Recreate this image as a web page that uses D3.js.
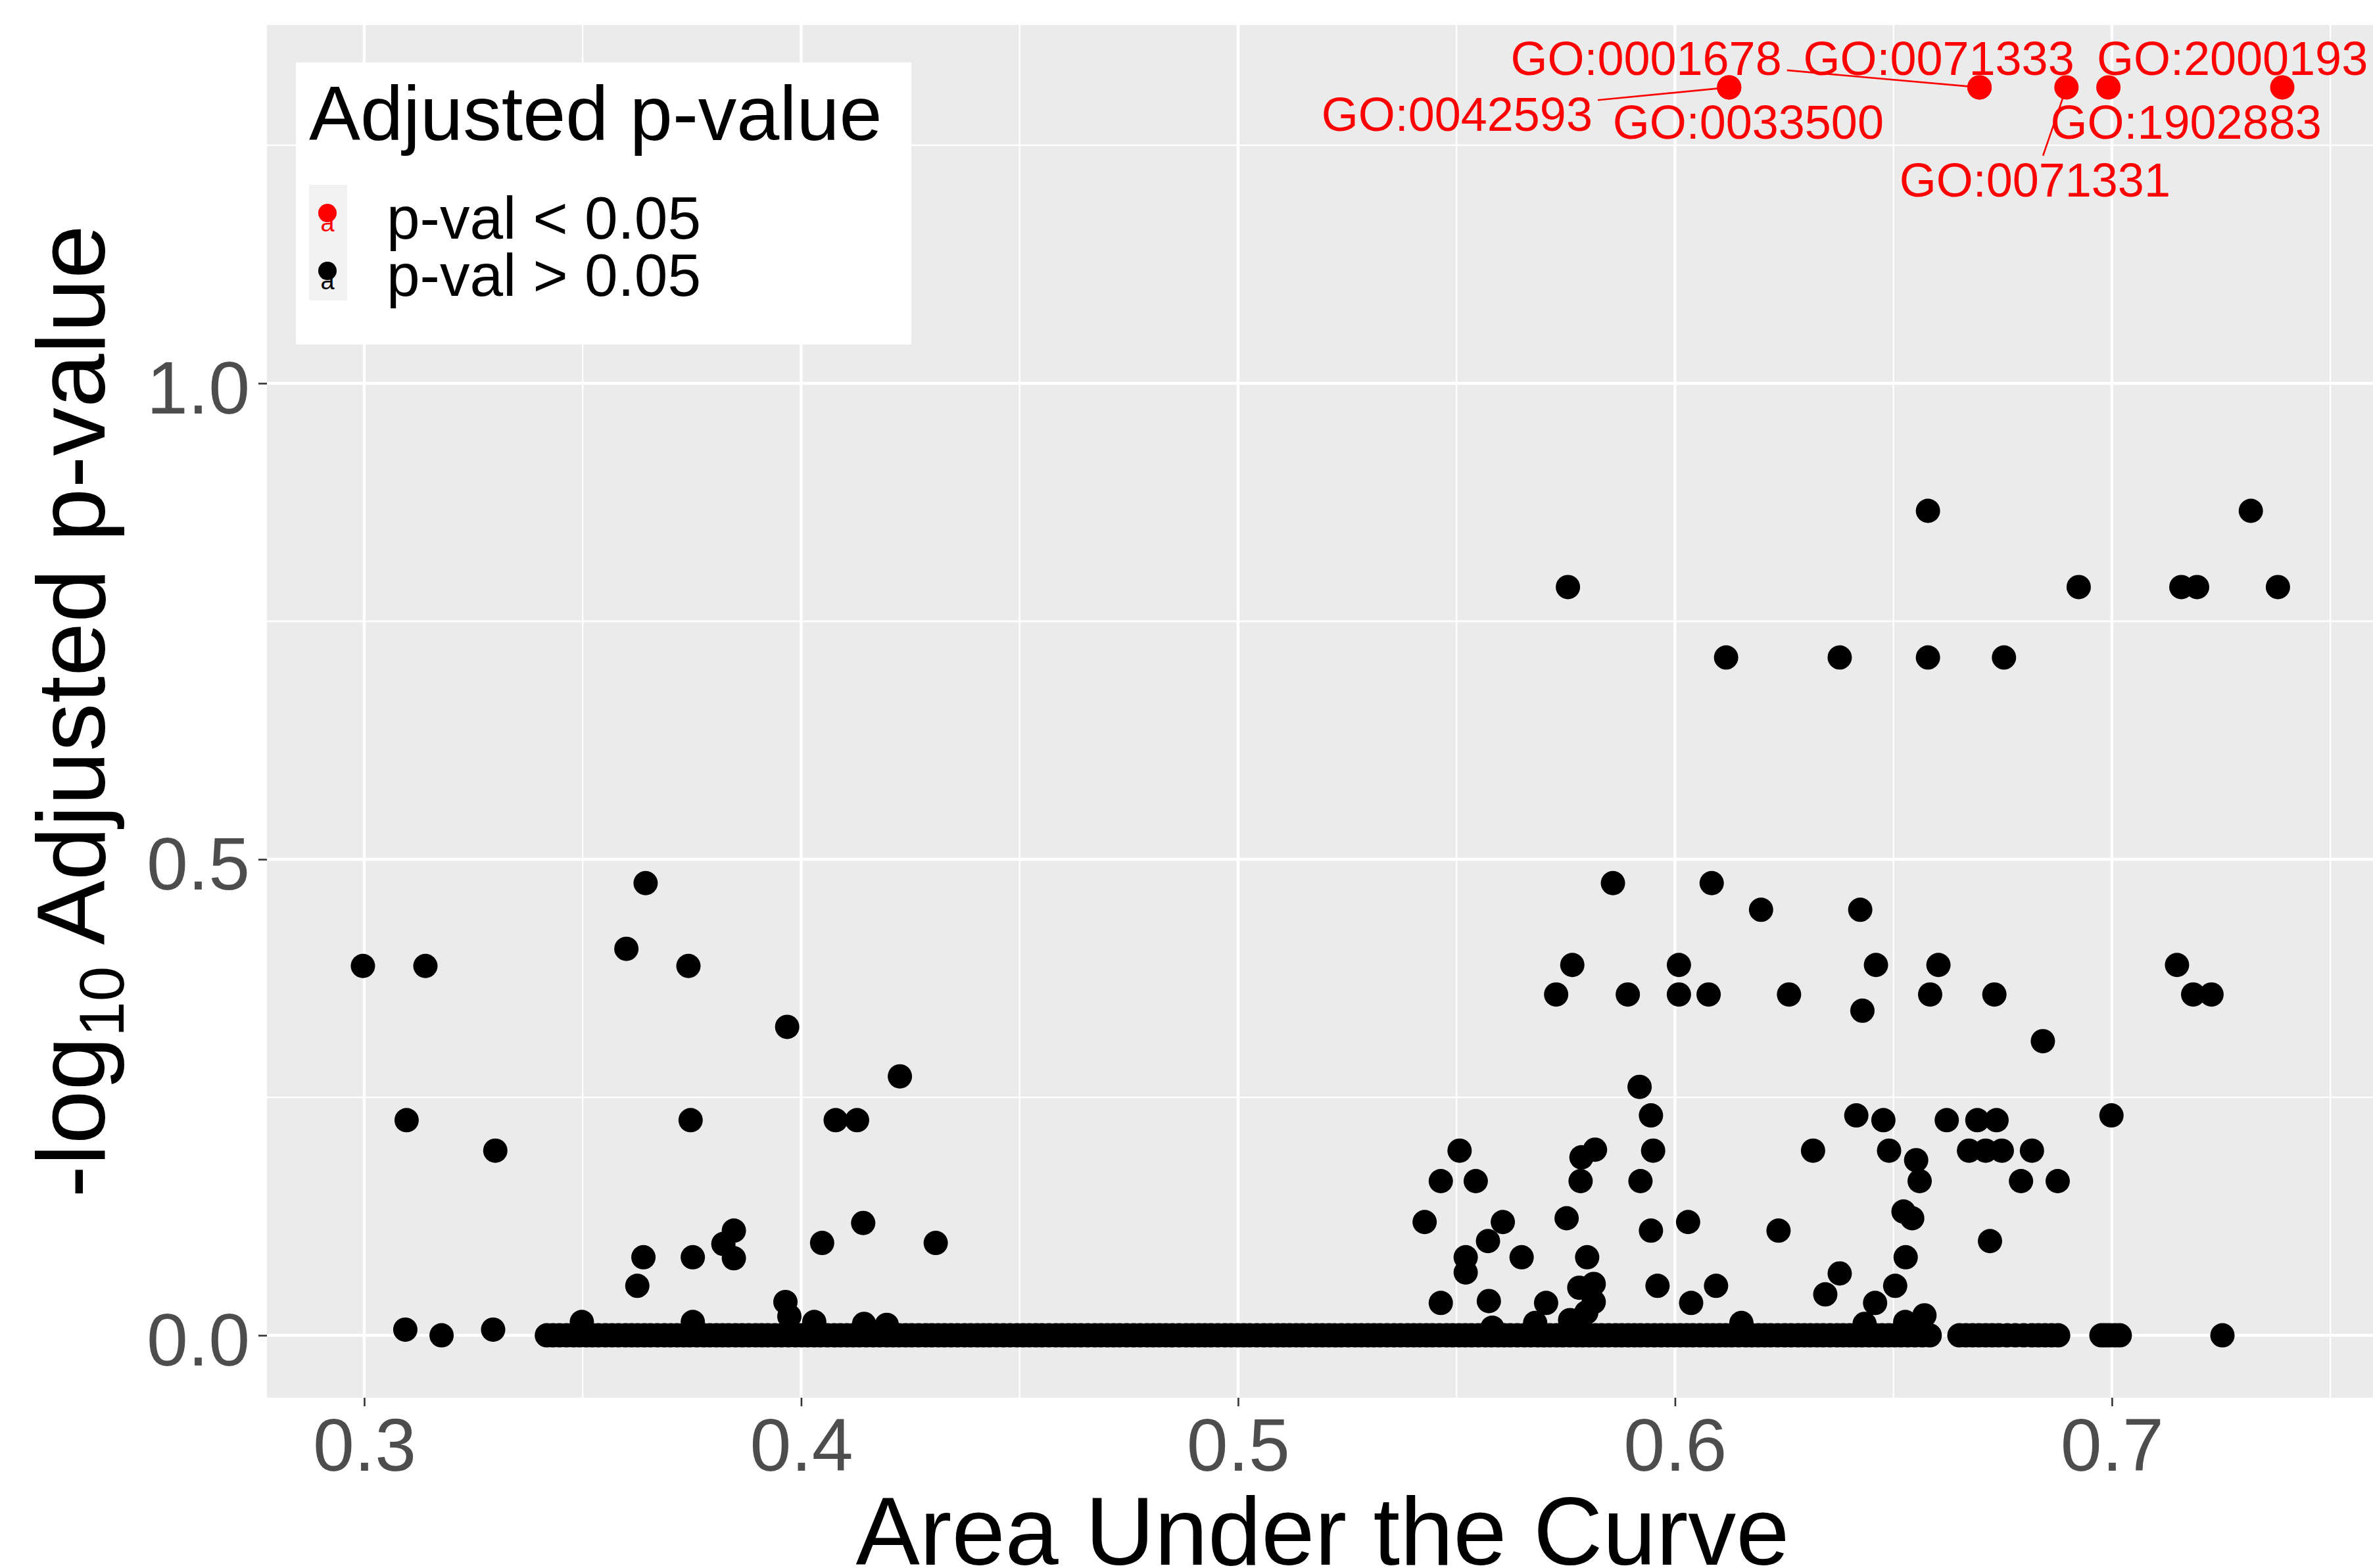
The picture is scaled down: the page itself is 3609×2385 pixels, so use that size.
<!DOCTYPE html>
<meta charset="utf-8">
<style>
body { margin: 0; background: #fff; }
text { font-family: "Liberation Sans", Arial, sans-serif; }
</style>
<body>
<script src="https://d3js.org/d3.v7.min.js"></script>
<script>

// significant GO terms (p-val < 0.05)
var sigTerms = ["GO:0042593", "GO:0033500", "GO:0001678", "GO:0071333", "GO:0071331", "GO:1902883", "GO:2000193"];
var sigAUC   = [0.6124, 0.6124, 0.6697, 0.6697, 0.6896, 0.6992, 0.7390];
var sigScore = [1.3108, 1.3108, 1.3108, 1.3108, 1.3108, 1.3108, 1.3108];

// non-significant terms, left group (AUC < 0.45)
var leftAUC = [0.2997, 0.3140, 0.3644, 0.3600, 0.3742, 0.3968, 0.4226, 0.3097, 0.3747, 0.4079,
  0.4128, 0.3300, 0.4142, 0.4048, 0.4308, 0.3846, 0.3822, 0.3846, 0.3752, 0.3639,
  0.3625, 0.3964, 0.3973, 0.3094, 0.3177, 0.3295, 0.3498, 0.3752, 0.4030, 0.4144, 0.4196];
var leftScore = [0.388, 0.388, 0.475, 0.406, 0.388, 0.324, 0.272, 0.226, 0.226, 0.226,
  0.226, 0.194, 0.118, 0.097, 0.097, 0.110, 0.096, 0.081, 0.082, 0.082,
  0.052, 0.035, 0.020, 0.006, 0.000, 0.006, 0.014, 0.014, 0.014, 0.012, 0.011];

// non-significant terms, right group (AUC > 0.54)
var rightAUC = [0.6579, 0.7318, 0.5755, 0.6924, 0.7159, 0.7195, 0.7380, 0.6117, 0.6377, 0.6579,
  0.6753, 0.5858, 0.6084, 0.6197, 0.6424, 0.5765, 0.6009, 0.6460, 0.6603, 0.7149,
  0.5728, 0.5892, 0.6009, 0.6077, 0.6261, 0.6584, 0.6731, 0.7186, 0.7228, 0.6429,
  0.6842, 0.5919, 0.5945, 0.6415, 0.6999, 0.6477, 0.6622, 0.6692, 0.6736, 0.5507,
  0.5817, 0.5786, 0.5950, 0.6316, 0.6490, 0.6673, 0.6711, 0.6748, 0.6817, 0.6552,
  0.5464, 0.5544, 0.5784, 0.5921, 0.6560, 0.6792, 0.6876, 0.6523, 0.5427, 0.5606,
  0.6030, 0.6543, 0.5752, 0.5945, 0.6237, 0.5572, 0.6721, 0.5521, 0.5649, 0.5799,
  0.6528, 0.5521, 0.6377, 0.5781, 0.5814, 0.5960, 0.6094, 0.6504, 0.6344, 0.5464,
  0.5574, 0.5705, 0.6037, 0.6458, 0.5814, 0.5797, 0.6571, 0.5760, 0.5680, 0.6152,
  0.6434, 0.6527, 0.5582];
var rightScore = [0.866, 0.866, 0.786, 0.786, 0.786, 0.786, 0.786, 0.712, 0.712, 0.712,
  0.712, 0.475, 0.475, 0.447, 0.447, 0.389, 0.389, 0.389, 0.389, 0.389,
  0.358, 0.358, 0.358, 0.358, 0.358, 0.358, 0.358, 0.358, 0.358, 0.341,
  0.309, 0.261, 0.231, 0.231, 0.231, 0.226, 0.226, 0.226, 0.226, 0.194,
  0.195, 0.187, 0.194, 0.194, 0.194, 0.194, 0.194, 0.194, 0.194, 0.184,
  0.162, 0.162, 0.162, 0.162, 0.162, 0.162, 0.162, 0.130, 0.119, 0.119,
  0.119, 0.123, 0.123, 0.110, 0.110, 0.099, 0.099, 0.082, 0.082, 0.082,
  0.082, 0.066, 0.065, 0.050, 0.054, 0.052, 0.052, 0.052, 0.043, 0.034,
  0.036, 0.034, 0.034, 0.034, 0.035, 0.024, 0.021, 0.016, 0.013, 0.013,
  0.012, 0.014, 0.008];

// terms with adjusted p-value = 1 (score 0)
var zeroAUC = [0.3418, 0.3447, 0.3479, 0.3508, 0.3536, 0.3567, 0.3598, 0.3626, 0.3655, 0.3687,
  0.3716, 0.3745, 0.3777, 0.3806, 0.3834, 0.3865, 0.3896, 0.3924, 0.3955, 0.3987,
  0.4015, 0.4044, 0.4076, 0.4105, 0.4133, 0.4165, 0.4196, 0.4224, 0.4253, 0.4285,
  0.4314, 0.4343, 0.4374, 0.4403, 0.4431, 0.4463, 0.4494, 0.4522, 0.4551, 0.4583,
  0.4612, 0.4640, 0.4672, 0.4701, 0.4729, 0.4761, 0.4792, 0.4820, 0.4849, 0.4881,
  0.4910, 0.4938, 0.4970, 0.4999, 0.5027, 0.5059, 0.5090, 0.5118, 0.5147, 0.5179,
  0.5208, 0.5236, 0.5268, 0.5297, 0.5325, 0.5357, 0.5388, 0.5416, 0.5445, 0.5477,
  0.5506, 0.5534, 0.5566, 0.5595, 0.5623, 0.5655, 0.5686, 0.5714, 0.5743, 0.5775,
  0.5804, 0.5832, 0.5864, 0.5893, 0.5921, 0.5953, 0.5984, 0.6012, 0.6041, 0.6073,
  0.6102, 0.6130, 0.6162, 0.6191, 0.6219, 0.6251, 0.6282, 0.6310, 0.6339, 0.6371,
  0.6400, 0.6428, 0.6460, 0.6489, 0.6517, 0.6549, 0.6583, 0.6651, 0.6681, 0.6711,
  0.6741, 0.6779, 0.6817, 0.6847, 0.6877, 0.6976, 0.6995, 0.7018, 0.7253];
var zeroAUC2 = [0.3432, 0.3463, 0.3493, 0.3522, 0.3552, 0.3582, 0.3612, 0.3641, 0.3671, 0.3701,
  0.3731, 0.3761, 0.3791, 0.3820, 0.3850, 0.3880, 0.3910, 0.3940, 0.3971, 0.4001,
  0.4030, 0.4060, 0.4090, 0.4119, 0.4149, 0.4180, 0.4210, 0.4239, 0.4269, 0.4299,
  0.4328, 0.4358, 0.4388, 0.4417, 0.4447, 0.4478, 0.4508, 0.4537, 0.4567, 0.4597,
  0.4626, 0.4656, 0.4686, 0.4715, 0.4745, 0.4776, 0.4806, 0.4835, 0.4865, 0.4895,
  0.4924, 0.4954, 0.4984, 0.5013, 0.5043, 0.5074, 0.5104, 0.5133, 0.5163, 0.5193,
  0.5222, 0.5252, 0.5282, 0.5311, 0.5341, 0.5372, 0.5402, 0.5431, 0.5461, 0.5491,
  0.5520, 0.5550, 0.5580, 0.5609, 0.5639, 0.5670, 0.5700, 0.5729, 0.5759, 0.5789,
  0.5818, 0.5848, 0.5878, 0.5907, 0.5937, 0.5968, 0.5998, 0.6027, 0.6057, 0.6087,
  0.6116, 0.6146, 0.6176, 0.6205, 0.6235, 0.6266, 0.6296, 0.6325, 0.6355, 0.6385,
  0.6414, 0.6444, 0.6474, 0.6503, 0.6533, 0.6566, 0.6666, 0.6696, 0.6726, 0.6760,
  0.6798, 0.6832, 0.6862, 0.6985, 0.7007];

var xTicks = [0.3, 0.4, 0.5, 0.6, 0.7];
var xMinor = [0.35, 0.45, 0.55, 0.65, 0.75];
var yTicks = [0.0, 0.5, 1.0];
var yMinor = [0.25, 0.75, 1.25];
var legendLabels = ["p-val < 0.05", "p-val > 0.05"];
var legendColors = ["#FF0000", "#000000"];

// label placement (px offset of label centre from its point), like ggrepel output
var labelNudge = [[-414, 40], [29, 52], [-507, -45], [-62, -45], [-48, 140], [118, 52], [-76, -45]];

var width = 3609, height = 2385;
var panel = {left: 406, top: 38, width: 3211, height: 2088};
var r = 18.5;

var blackPts = [];
leftAUC.forEach(function(a, i) { blackPts.push([a, leftScore[i]]); });
rightAUC.forEach(function(a, i) { blackPts.push([a, rightScore[i]]); });
zeroAUC.concat(zeroAUC2).forEach(function(a) { blackPts.push([a, 0]); });
var redPts = sigAUC.map(function(a, i) { return [a, sigScore[i], sigTerms[i], labelNudge[i]]; });

var allX = blackPts.map(function(d) { return d[0]; }).concat(sigAUC);
var allY = blackPts.map(function(d) { return d[1]; }).concat(sigScore);
var xe = d3.extent(allX), ye = d3.extent(allY);
var xp = (xe[1] - xe[0]) * 0.05, yp = (ye[1] - ye[0]) * 0.05;

var x = d3.scaleLinear().domain([xe[0] - xp, xe[1] + xp]).range([panel.left, panel.left + panel.width]);
var y = d3.scaleLinear().domain([ye[0] - yp, ye[1] + yp]).range([panel.top + panel.height, panel.top]);

var svg = d3.select("body").append("svg")
    .attr("width", width)
    .attr("height", height);

svg.append("rect").attr("width", width).attr("height", height).attr("fill", "#fff");
svg.append("rect")
    .attr("x", panel.left).attr("y", panel.top)
    .attr("width", panel.width).attr("height", panel.height)
    .attr("fill", "#EBEBEB");

// grid
var grid = svg.append("g");
grid.selectAll(".xminor").data(xMinor).enter().append("line")
    .attr("x1", x).attr("x2", x).attr("y1", panel.top).attr("y2", panel.top + panel.height)
    .attr("stroke", "#fff").attr("stroke-width", 2.3);
grid.selectAll(".yminor").data(yMinor).enter().append("line")
    .attr("y1", y).attr("y2", y).attr("x1", panel.left).attr("x2", panel.left + panel.width)
    .attr("stroke", "#fff").attr("stroke-width", 2.3);
grid.selectAll(".xmajor").data(xTicks).enter().append("line")
    .attr("x1", x).attr("x2", x).attr("y1", panel.top).attr("y2", panel.top + panel.height)
    .attr("stroke", "#fff").attr("stroke-width", 4.4);
grid.selectAll(".ymajor").data(yTicks).enter().append("line")
    .attr("y1", y).attr("y2", y).attr("x1", panel.left).attr("x2", panel.left + panel.width)
    .attr("stroke", "#fff").attr("stroke-width", 4.4);

var segG = svg.append("g");
var ptG = svg.append("g");
var labG = svg.append("g");

ptG.selectAll(".black").data(blackPts).enter().append("circle")
    .attr("cx", function(d) { return x(d[0]); })
    .attr("cy", function(d) { return y(d[1]); })
    .attr("r", r).attr("fill", "#000");

ptG.selectAll(".red").data(redPts).enter().append("circle")
    .attr("cx", function(d) { return x(d[0]); })
    .attr("cy", function(d) { return y(d[1]); })
    .attr("r", r).attr("fill", "#FF0000");

// repelled labels + segments
redPts.forEach(function(d) {
  var px = x(d[0]), py = y(d[1]);
  var cx = px + d[3][0], cy = py + d[3][1];
  var t = labG.append("text")
      .attr("x", cx).attr("y", cy + 26)
      .attr("text-anchor", "middle")
      .attr("font-size", 72)
      .attr("fill", "#FF0000")
      .text(d[2]);
  var hw = t.node().getComputedTextLength() / 2 + 8, hh = 36;
  var dx = px - cx, dy = py - cy;
  var s = Math.min(dx ? hw / Math.abs(dx) : Infinity, dy ? hh / Math.abs(dy) : Infinity);
  if (s < 1) {
    var rest = (1 - s) * Math.sqrt(dx * dx + dy * dy);
    if (rest > 50) {
      segG.append("line")
          .attr("x1", cx + dx * s).attr("y1", cy + dy * s)
          .attr("x2", px).attr("y2", py)
          .attr("stroke", "#FF0000").attr("stroke-width", 2.6);
    }
  }
});

// axes
var xAxis = svg.append("g")
    .attr("transform", "translate(0," + (panel.top + panel.height) + ")")
    .call(d3.axisBottom(x).tickValues(xTicks).tickSize(13).tickPadding(18).tickFormat(d3.format(".1f")));
var yAxis = svg.append("g")
    .attr("transform", "translate(" + panel.left + ",0)")
    .call(d3.axisLeft(y).tickValues(yTicks).tickSize(13).tickPadding(13).tickFormat(d3.format(".1f")));
[xAxis, yAxis].forEach(function(a) {
  a.select(".domain").remove();
  a.selectAll("line").attr("stroke", "#333333").attr("stroke-width", 2.6);
  a.selectAll("text").attr("font-size", 113).attr("fill", "#4D4D4D")
      .attr("font-family", "'Liberation Sans', Arial, sans-serif");
});
yAxis.selectAll("text").attr("dy", "0.40em");

// axis titles
svg.append("text")
    .attr("x", panel.left + panel.width / 2)
    .attr("y", 2380)
    .attr("text-anchor", "middle")
    .attr("font-size", 146)
    .text("Area Under the Curve");

var yt = svg.append("text")
    .attr("transform", "translate(159," + (panel.top + panel.height / 2) + ") rotate(-90)")
    .attr("text-anchor", "middle")
    .attr("font-size", 147);
yt.append("tspan").text("-log");
yt.append("tspan").attr("font-size", 96).attr("dy", 29).text("10");
yt.append("tspan").attr("dy", -29).text(" Adjusted p-value");

// legend
var lg = svg.append("g");
lg.append("rect").attr("x", 450).attr("y", 95).attr("width", 936).attr("height", 429).attr("fill", "#fff");
lg.append("text").attr("x", 470).attr("y", 213).attr("font-size", 117).text("Adjusted p-value");
lg.append("rect").attr("x", 470).attr("y", 281).attr("width", 58).attr("height", 176).attr("fill", "#F2F2F2");
legendLabels.forEach(function(lab, i) {
  var ky = 324 + i * 88;
  lg.append("circle").attr("cx", 498).attr("cy", ky).attr("r", 14).attr("fill", legendColors[i]);
  lg.append("text").attr("x", 498).attr("y", ky + 28).attr("text-anchor", "middle")
      .attr("font-size", 38).attr("fill", legendColors[i]).text("a");
  lg.append("text").attr("x", 588).attr("y", 363 + i * 87).attr("font-size", 91).text(lab);
});

</script>
</body>
